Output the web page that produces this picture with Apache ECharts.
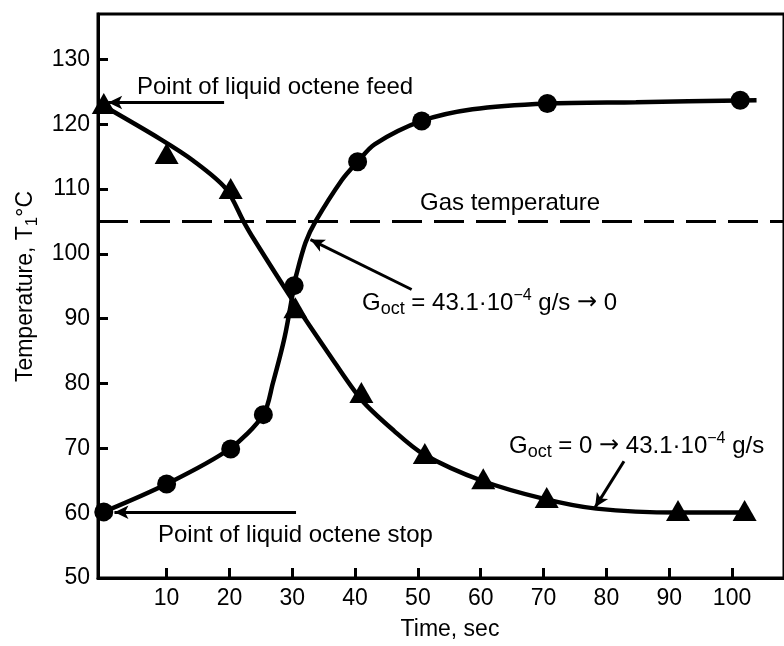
<!DOCTYPE html>
<html>
<head>
<meta charset="utf-8">
<script src="https://cdn.jsdelivr.net/npm/echarts@6/dist/echarts.min.js"></script>
<style>
  html, body { margin: 0; padding: 0; background: #fff; }
  #chart { width: 784px; height: 646px; }
</style>
</head>
<body>
<div id="chart"></div>
<script>
// Measured temperatures, circles: liquid octene feed stopped at t = 0
const circleTime = [0, 10, 20.2, 25.4, 30.3, 40.4, 50.6, 70.6, 101.3];
const circleTemp = [60.2, 64.5, 69.9, 75.2, 95.1, 114.2, 120.5, 123.2, 123.7];

// Measured temperatures, triangles: liquid octene feed started at t = 0
const triangleTime = [0, 10, 20.2, 30.5, 41, 51.1, 60.4, 70.5, 91.4, 102];
const triangleTemp = [123.2, 115.5, 110.1, 91.7, 78.6, 69.2, 65.3, 62.4, 60.4, 60.4];

// Fitted curve through the heating run
const riseCurveTime = [0, 10, 20, 25.4, 26.9, 28.8, 30.3, 30.6, 32.1, 33.7, 37.9, 40.4, 43.1, 50.6, 58.7, 70.6, 84.7, 103.9];
const riseCurveTemp = [60.2, 64.5, 69.9, 75.2, 80, 87.2, 95.1, 96.6, 101.7, 105, 111.4, 114.2, 116.9, 120.5, 122.3, 123.2, 123.4, 123.7];

// Fitted curve through the cooling run
const fallCurveTime = [0, 9, 14.2, 19.4, 22.3, 23.8, 30.1, 35.8, 41, 46.2, 50.9, 60.2, 70.1, 78.4, 91.4, 102];
const fallCurveTemp = [122.8, 117.7, 114.4, 110.1, 104.9, 102.4, 92.8, 84.6, 77.5, 72.7, 69.1, 65, 62.2, 60.7, 60.1, 60.1];

// Gas temperature level
const gasTemp = 105;

// Axis ticks
const xTicks = [10, 20, 30, 40, 50, 60, 70, 80, 90, 100];
const yTicks = [50, 60, 70, 80, 90, 100, 110, 120, 130];

// Annotation arrows: [from, to] in (time, temperature)
const arrowFeed = [[19.15, 123.35], [0.7, 123.35]];
const arrowStop = [[30.6, 60.14], [1.7, 60.14]];
const arrowStopCurve = [[49.0, 94.5], [32.9, 102.2]];
const arrowFeedCurve = [[82.8, 68.0], [78.2, 60.9]];

const zip = (xs, ys) => xs.map((x, i) => [x, ys[i]]);

const FONT = 'Liberation Sans, Arial, Helvetica, sans-serif';
const BLACK = '#000';

const arrowLine = (pair) => [{ coord: pair[0] }, { coord: pair[1] }];

const chart = echarts.init(document.getElementById('chart'), null, { renderer: 'canvas' });

const richStyles = {
  n: { fontSize: 24, fontFamily: FONT, color: BLACK, lineHeight: 30, verticalAlign: 'middle' },
  arr: { fontSize: 24, fontFamily: 'DejaVu Sans', color: BLACK, lineHeight: 30, verticalAlign: 'middle' },
  sub: { fontSize: 18, fontFamily: FONT, color: BLACK, lineHeight: 17, verticalAlign: 'bottom' },
  sup: { fontSize: 16, fontFamily: FONT, color: BLACK, lineHeight: 20, verticalAlign: 'top' }
};

function label(x, y, text, rich) {
  return {
    type: 'text',
    x: x,
    y: y,
    silent: true,
    style: {
      text: text,
      fill: BLACK,
      font: '24px ' + FONT,
      verticalAlign: 'middle',
      align: 'left',
      rich: rich ? richStyles : undefined
    }
  };
}

const option = {
  animation: false,
  backgroundColor: '#fff',
  grid: {
    left: 98, top: 14, width: 700, height: 569,
    show: true, borderColor: BLACK, borderWidth: 3, backgroundColor: 'transparent'
  },
  xAxis: {
    type: 'value',
    min: -0.92,
    max: 108.27,
    name: 'Time, sec',
    nameLocation: 'middle',
    nameGap: 40,
    nameTextStyle: { fontSize: 23, fontFamily: FONT, color: BLACK, padding: [0, 0, 0, 18] },
    axisLine: { onZero: false, lineStyle: { color: BLACK, width: 3 } },
    axisTick: { inside: true, length: 10, lineStyle: { color: BLACK, width: 3 }, customValues: xTicks },
    axisLabel: { fontSize: 23, fontFamily: FONT, color: BLACK, margin: 9, customValues: xTicks },
    splitLine: { show: false }
  },
  yAxis: {
    type: 'value',
    min: 50,
    max: 137,
    name: '{a|Temperature, T}{s|1}{a|°C}',
    nameLocation: 'middle',
    nameRotate: 90,
    nameGap: 57,
    nameTextStyle: {
      fontSize: 23, fontFamily: FONT, color: BLACK, padding: [0, 0, 0, 19],
      rich: {
        a: { fontSize: 23, fontFamily: FONT, color: BLACK, lineHeight: 30, verticalAlign: 'middle' },
        s: { fontSize: 17, fontFamily: FONT, color: BLACK, lineHeight: 17, verticalAlign: 'bottom' }
      }
    },
    axisLine: { onZero: false, lineStyle: { color: BLACK, width: 3 } },
    axisTick: { inside: true, length: 10, lineStyle: { color: BLACK, width: 3 }, customValues: yTicks.slice(1) },
    axisLabel: { fontSize: 23, fontFamily: FONT, color: BLACK, margin: 8, customValues: yTicks },
    splitLine: { show: false }
  },
  series: [
    {
      name: 'Heating',
      type: 'line',
      data: zip(riseCurveTime, riseCurveTemp),
      smooth: 0.3,
      symbol: 'none',
      lineStyle: { color: BLACK, width: 4.5 },
      silent: true,
      z: 2,
      markLine: {
        silent: true,
        symbol: ['none', 'arrow'],
        symbolSize: [10, 14],
        label: { show: false },
        lineStyle: { color: BLACK, width: 3, type: 'solid' },
        data: [
          arrowLine(arrowFeed),
          arrowLine(arrowStop),
          arrowLine(arrowStopCurve),
          arrowLine(arrowFeedCurve)
        ]
      }
    },
    {
      name: 'Cooling',
      type: 'line',
      data: zip(fallCurveTime, fallCurveTemp),
      smooth: 0.3,
      symbol: 'none',
      lineStyle: { color: BLACK, width: 4.5 },
      silent: true,
      z: 2,
      markLine: {
        silent: true,
        symbol: ['none', 'none'],
        label: { show: false },
        lineStyle: { color: BLACK, width: 3, type: [30, 12] },
        data: [{ yAxis: gasTemp }]
      }
    },
    {
      name: 'Feed stopped',
      type: 'scatter',
      data: zip(circleTime, circleTemp),
      symbol: 'circle',
      symbolSize: 19,
      itemStyle: { color: BLACK, opacity: 1 },
      silent: true,
      z: 3
    },
    {
      name: 'Feed started',
      type: 'scatter',
      data: zip(triangleTime, triangleTemp),
      symbol: 'triangle',
      symbolSize: [24, 21],
      itemStyle: { color: BLACK, opacity: 1 },
      silent: true,
      z: 3
    }
  ],
  graphic: [
    label(137, 87, 'Point of liquid octene feed'),
    label(158, 535, 'Point of liquid octene stop'),
    label(420, 203, 'Gas temperature'),
    label(362, 303, '{n|G}{sub|oct}{n| = 43.1·10}{sup|−4}{n| g/s }{arr|→}{n| 0}', true),
    label(509, 446, '{n|G}{sub|oct}{n| = 0 }{arr|→}{n| 43.1·10}{sup|−4}{n| g/s}', true)
  ]
};

chart.setOption(option);
</script>
</body>
</html>
